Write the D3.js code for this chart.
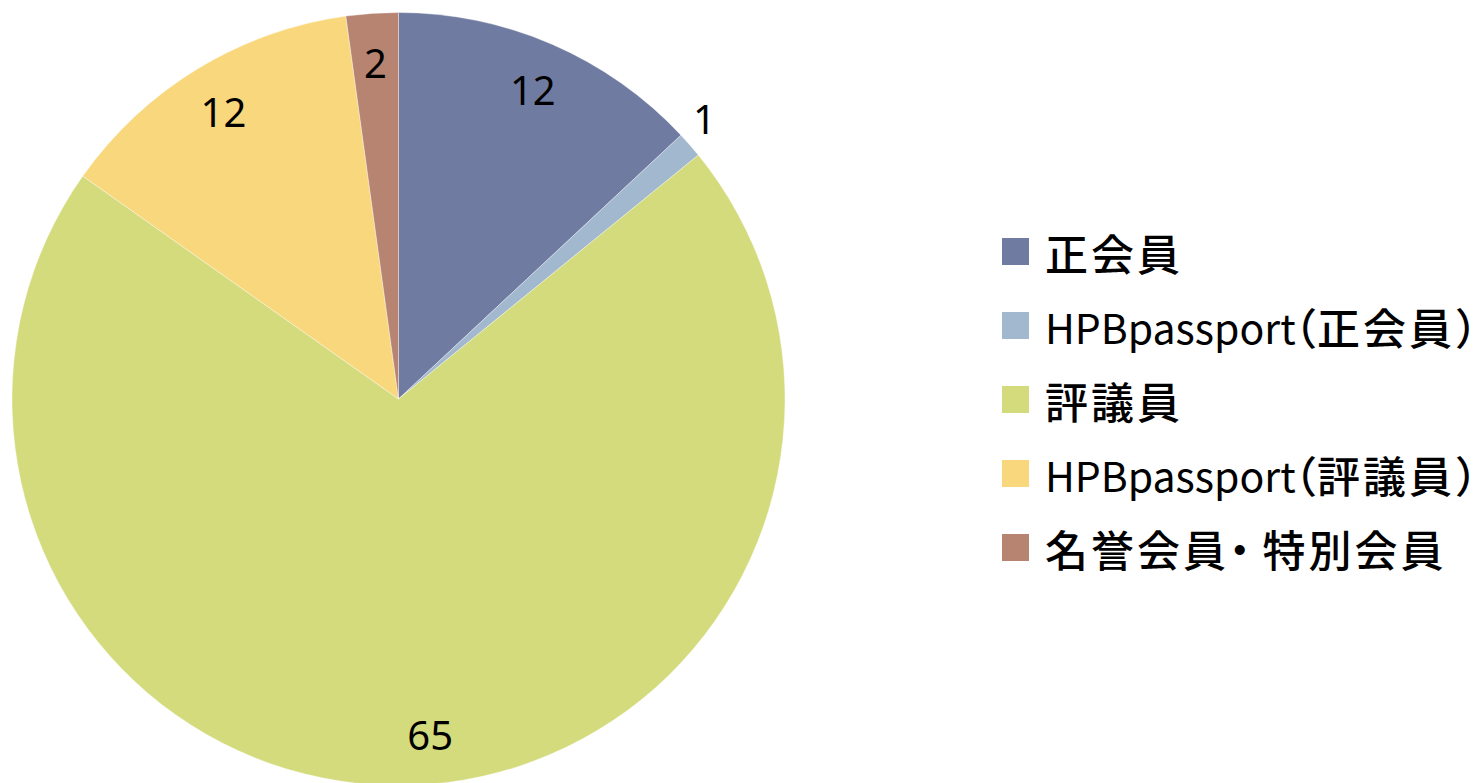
<!DOCTYPE html>
<html><head><meta charset="utf-8">
<script src="https://cdn.jsdelivr.net/npm/d3@7"></script>
<style>html,body{margin:0;padding:0;background:#fff;}svg{display:block;}</style>
</head><body>
<svg id="chart" width="1480" height="783"></svg>
<script>
const categories = ["正会員", "HPBpassport（正会員）", "評議員", "HPBpassport（評議員）", "名誉会員・特別会員"];
const values = [12, 1, 65, 12, 2];
const colors = ["#707BA1", "#A2B8CE", "#D4DB7D", "#F9D87D", "#B78472"];

const svg = d3.select("#chart");
const cx = 398.5, cy = 399, R = 386.5;
const g = svg.append("g").attr("transform", `translate(${cx},${cy})`);

const pie = d3.pie().sort(null).value(d => d)(values);
const arc = d3.arc().innerRadius(0).outerRadius(R);

g.selectAll("path").data(pie).enter().append("path")
  .attr("d", arc)
  .attr("fill", (d, i) => colors[i])
  .attr("stroke", "rgba(255,255,255,0.35)")
  .attr("stroke-width", 1);

const total = d3.sum(values);
g.selectAll("text.lbl").data(pie).enter().append("text")
  .attr("class", "lbl")
  .attr("transform", d => {
    const a = (d.startAngle + d.endAngle) / 2;
    const small = d.value / total < 0.02;
    const large = d.value / total > 0.5;
    const r = small ? 415 : 337;
    const aa = small ? a - 0.025 : (large ? a - 0.06 : a);
    return `translate(${Math.sin(aa) * r},${-Math.cos(aa) * r})`;
  })
  .attr("text-anchor", "middle")
  .attr("dominant-baseline", "central")
  .style("font-family", "'Noto Sans', 'Open Sans', sans-serif")
  .style("font-size", "40px")
  .attr("fill", "#000")
  .text(d => d.value);

const legend = svg.append("g").attr("transform", "translate(1002,238)");
const rows = legend.selectAll("g").data(categories).enter().append("g")
  .attr("transform", (d, i) => `translate(0,${i * 74})`);
rows.append("rect").attr("width", 27).attr("height", 27).attr("fill", (d, i) => colors[i]);

// split each label into latin / CJK / bracket runs for typographic spacing
function runs(s) {
  const out = [];
  for (const ch of s) {
    const type = /[\x00-\x7F]/.test(ch) ? "latin" : (/[（）]/.test(ch) ? "punct" : (ch === "・" ? "dot" : "cjk"));
    if (out.length && out[out.length - 1].type === type) out[out.length - 1].text += ch;
    else out.push({ type, text: ch });
  }
  return out;
}
const txt = rows.append("text")
  .attr("x", 43).attr("y", 13.5)
  .attr("dominant-baseline", "central")
  .style("font-family", "'Noto Sans CJK JP', sans-serif")
  .attr("fill", "#000");
txt.selectAll("tspan").data(d => runs(d)).enter().append("tspan")
  .style("font-size", r => r.type === "latin" ? "41px" : "43px")
  .style("letter-spacing", r => r.type === "cjk" ? "3px" : (r.type === "dot" ? "12px" : "0px"))
  .style("font-feature-settings", r => (r.type === "punct" || r.type === "dot") ? "'halt' 1" : "normal")
  .style("font-weight", r => r.type === "latin" ? 400 : 500)
  .text(r => r.text);
</script>
</body></html>
